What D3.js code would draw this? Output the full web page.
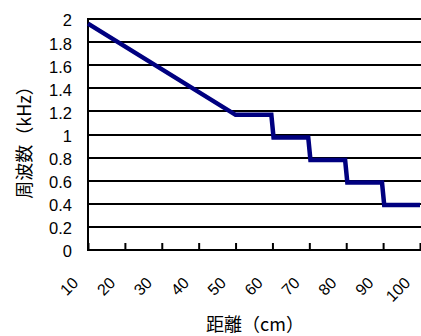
<!DOCTYPE html>
<html>
<head>
<meta charset="utf-8">
<script src="https://cdn.jsdelivr.net/npm/d3@7"></script>
<style>
  html, body { margin: 0; padding: 0; background: #fff; }
  svg { display: block; }
  text { font-family: "Liberation Sans", Arial, sans-serif; fill: #000; }
  .cjk { font-family: "Noto Sans CJK JP", sans-serif; }
</style>
</head>
<body>
<svg id="chart" width="421" height="336"></svg>
<script>
// Distance (cm) and measured frequency (kHz)
const distance  = [10, 50, 59.7, 60.3, 69.7, 70.3, 79.7, 80.3, 89.7, 90.3, 100];
const frequency = [1.96, 1.17, 1.17, 0.975, 0.975, 0.78, 0.78, 0.585, 0.585, 0.39, 0.39];

const xTicks = [10, 20, 30, 40, 50, 60, 70, 80, 90, 100];
const yTicks = [0, 0.2, 0.4, 0.6, 0.8, 1, 1.2, 1.4, 1.6, 1.8, 2];

const xTitle = "距離（cm）";
const yTitle = "周波数（kHz）";

const svg = d3.select("#chart");
const plotLeft = 88, plotRight = 420, plotTop = 19, plotBottom = 250;

const x = d3.scaleLinear().domain([10, 100]).range([plotLeft, plotRight]);
const y = d3.scaleLinear().domain([0, 2]).range([plotBottom, plotTop]);

// horizontal gridlines
svg.append("g")
  .selectAll("line")
  .data(yTicks.filter(d => d > 0))
  .join("line")
  .attr("x1", plotLeft).attr("x2", 421)
  .attr("y1", d => Math.round(y(d))).attr("y2", d => Math.round(y(d)))
  .attr("stroke", "#000").attr("stroke-width", 2);

// y axis labels
const yAxis = d3.axisLeft(y).tickValues(yTicks).tickSize(0).tickPadding(16)
  .tickFormat(d3.format("~g"));
const gy = svg.append("g").attr("transform", `translate(${plotLeft},0)`).call(yAxis);
gy.select(".domain").remove();
gy.selectAll("text")
  .attr("font-size", 16.5)
  .attr("font-family", "Liberation Sans, Arial, sans-serif")
  .attr("fill", "#000")
  .attr("dy", "0.42em");

// x axis: ticks pointing up into the plot, rotated labels
const xAxis = d3.axisBottom(x).tickValues(xTicks).tickSize(-7).tickFormat(d3.format("d"));
const gx = svg.append("g").attr("transform", `translate(0,${plotBottom})`).call(xAxis);
gx.select(".domain").remove();
gx.selectAll(".tick line").attr("stroke", "#000").attr("stroke-width", 2);
gx.selectAll("text")
  .attr("font-size", 16)
  .attr("font-family", "Liberation Sans, Arial, sans-serif")
  .attr("fill", "#000")
  .attr("text-anchor", "end")
  .attr("dominant-baseline", "central")
  .attr("y", 0).attr("dy", 0)
  .attr("transform", "translate(-13,30) rotate(-45)");

// axis lines
svg.append("line").attr("x1", plotLeft).attr("x2", plotLeft).attr("y1", plotTop - 1).attr("y2", plotBottom + 1)
  .attr("stroke", "#000").attr("stroke-width", 2);
svg.append("line").attr("x1", plotLeft - 1).attr("x2", 421).attr("y1", plotBottom).attr("y2", plotBottom)
  .attr("stroke", "#000").attr("stroke-width", 2);

// data line
const line = d3.line().x((d, i) => x(distance[i])).y(d => y(d));
svg.append("path")
  .datum(frequency)
  .attr("d", line)
  .attr("fill", "none")
  .attr("stroke", "#000080")
  .attr("stroke-width", 4.5)
  .attr("stroke-linejoin", "miter");

// axis titles
svg.append("text").attr("class", "cjk")
  .attr("x", 255).attr("y", 331)
  .attr("text-anchor", "middle").attr("font-size", 18)
  .text(xTitle);

svg.append("text").attr("class", "cjk")
  .attr("transform", "translate(31,138) rotate(-90)")
  .attr("text-anchor", "middle").attr("font-size", 18)
  .text(yTitle);
</script>
</body>
</html>
